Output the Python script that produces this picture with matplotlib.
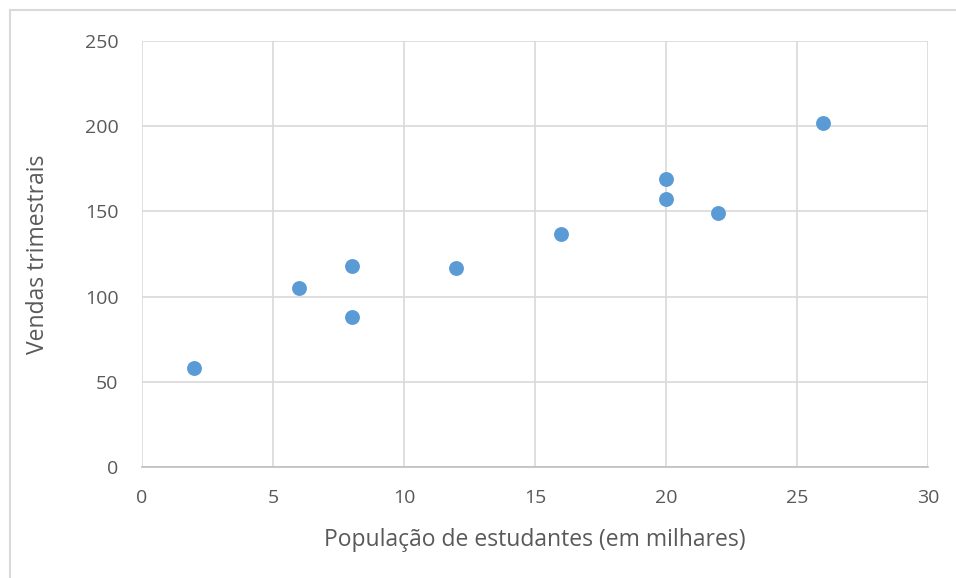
import matplotlib.pyplot as plt
from matplotlib.patches import Rectangle

# student population (thousands) and quarterly sales
populacao = [2, 6, 8, 8, 12, 16, 20, 20, 22, 26]
vendas = [58, 105, 88, 118, 117, 137, 157, 169, 149, 202]

xticks = [0, 5, 10, 15, 20, 25, 30]
yticks = [0, 50, 100, 150, 200, 250]

plt.rcParams['font.family'] = ['Open Sans', 'DejaVu Sans']
grey = '#d9d9d9'
txt = '#595959'

fig = plt.figure(figsize=(9.56, 5.78), dpi=100)
ax = fig.add_axes([142/956, 1-467/578, (928-142)/956, (467-41)/578])

ax.scatter(populacao, vendas, s=115, color='#5b9bd5', zorder=3, linewidths=0)

ax.set_xlim(0, 30)
ax.set_ylim(0, 250)
ax.set_xticks(xticks)
ax.set_yticks(yticks)
ax.grid(True, color=grey, linewidth=1.2)
for s in ax.spines.values():
    s.set_visible(False)
ax.spines['bottom'].set_visible(True)
ax.spines['bottom'].set_color('#bfbfbf')
ax.spines['bottom'].set_linewidth(1.2)
ax.tick_params(length=0, labelsize=14, colors=txt)
ax.tick_params(axis='x', pad=16)
ax.tick_params(axis='y', pad=17)

ax.set_xlabel('População de estudantes (em milhares)', fontsize=16.5, color=txt, va='center')
ax.xaxis.set_label_coords(0.5, -0.171)
ax.set_ylabel('Vendas trimestrais', fontsize=16.5, color=txt, va='center')
ax.yaxis.set_label_coords(-0.132, 0.5)

# chart border
fig.patches.append(Rectangle((10/956, -0.1), 1.2, 1.1 - 10/578, transform=fig.transFigure,
                             fill=False, edgecolor=grey, linewidth=1.5))

fig.savefig('out.png', dpi=100)
